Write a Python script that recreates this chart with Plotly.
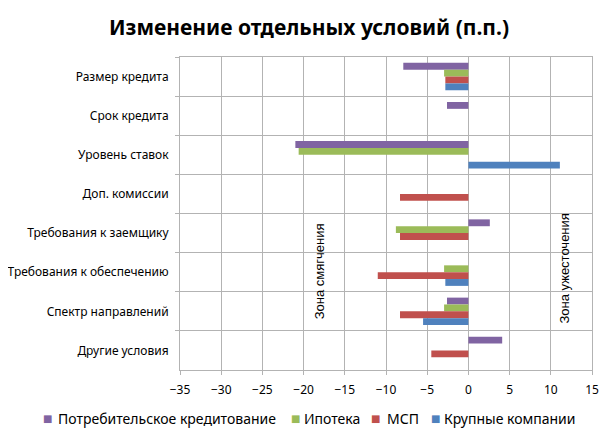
import plotly.graph_objects as go

categories = ["Размер кредита", "Срок кредита", "Уровень ставок", "Доп. комиссии",
              "Требования к заемщику", "Требования к обеспечению",
              "Спектр направлений", "Другие условия"]

consumer = [-7.9, -2.6, -21.0, 0, 2.6, 0, -2.6, 4.1]
mortgage = [-2.95, 0, -20.6, 0, -8.8, -2.95, -2.95, 0]
sme = [-2.8, 0, 0, -8.3, -8.3, -11.0, -8.3, -4.5]
corporate = [-2.8, 0, 11.1, 0, 0, -2.8, -5.5, 0]

series_names = ["Потребительское кредитование", "Ипотека", "МСП", "Крупные компании"]
series_values = [consumer, mortgage, sme, corporate]
colors = ["#8064A2", "#9BBB59", "#C0504D", "#4F81BD"]

x_ticks = [-35, -30, -25, -20, -15, -10, -5, 0, 5, 10, 15]

FONT = "Noto Sans"
# page body has an 8px margin; figure sized to fill the rest of the window
OFF = 8
W, H = 614 - OFF, 440 - OFF
L, R, T, B = 180 - OFF, 22, 57 - OFF, 70
PW, PH = W - L - R, H - T - B


def px_x(wx):
    return (wx - OFF - L) / PW


def px_y(wy):
    return (H - B - (wy - OFF)) / PH


fig = go.Figure()
for name, vals, col in zip(series_names, series_values, colors):
    fig.add_trace(go.Bar(y=categories, x=vals, name=name, orientation="h",
                         marker=dict(color=col, line=dict(width=0))))

# legend drawn as text: coloured square + label
legend_square_x = [47, 295, 375, 435]
legend_text_x = [57, 303, 386, 443]
legend_y = 418
annotations = []
for name, col, sx, tx in zip(series_names, colors, legend_square_x, legend_text_x):
    annotations.append(dict(text="■", x=px_x(sx), y=px_y(legend_y), xref="paper", yref="paper",
                            xanchor="center", yanchor="middle", showarrow=False, borderpad=0,
                            font=dict(family="DejaVu Sans", size=10, color=col)))
    annotations.append(dict(text=name, x=px_x(tx), y=px_y(legend_y), xref="paper", yref="paper",
                            xanchor="left", yanchor="middle", showarrow=False, borderpad=0,
                            font=dict(family=FONT, size=14, color="#000000")))

annotations += [
    dict(text="Зона смягчения", x=-18.1, xref="x", y=px_y(271), yref="paper",
         xanchor="center", yanchor="middle", textangle=-90, showarrow=False,
         font=dict(family="Liberation Sans", size=13, color="#000000")),
    dict(text="Зона ужесточения", x=11.55, xref="x", y=px_y(269), yref="paper",
         xanchor="center", yanchor="middle", textangle=-90, showarrow=False,
         font=dict(family="Liberation Sans", size=13, color="#000000")),
]

grid = "#b3b3b3"
fig.update_layout(
    width=W, height=H,
    margin=dict(l=L, r=R, t=T, b=B, autoexpand=False),
    paper_bgcolor="white", plot_bgcolor="white",
    barmode="group", bargap=0.3, bargroupgap=0,
    font=dict(family=FONT, size=12, color="#000000"),
    title=dict(text="<b>Изменение отдельных условий (п.п.)</b>",
               xref="container", yref="container",
               x=(309 - OFF) / W, xanchor="center", y=1 - (28 - OFF) / H, yanchor="middle",
               font=dict(family=FONT, size=21, color="#000000")),
    showlegend=False,
    xaxis=dict(range=[-35, 15], tickvals=x_ticks, showgrid=True, gridcolor=grid,
               gridwidth=1, zeroline=False, showline=True, linecolor=grid,
               mirror=True, ticks="outside", ticklen=4, tickcolor=grid,
               tickfont=dict(family=FONT, size=12), ticklabelstandoff=5,
               fixedrange=True),
    yaxis=dict(categoryorder="array", categoryarray=categories, autorange="reversed",
               tickson="boundaries", showgrid=True, gridcolor=grid, showline=True,
               linecolor=grid, mirror=True, ticks="outside", ticklen=4,
               tickcolor=grid, tickfont=dict(family=FONT, size=12), ticklabelstandoff=8),
    annotations=annotations,
)

fig.write_html("out.html")
